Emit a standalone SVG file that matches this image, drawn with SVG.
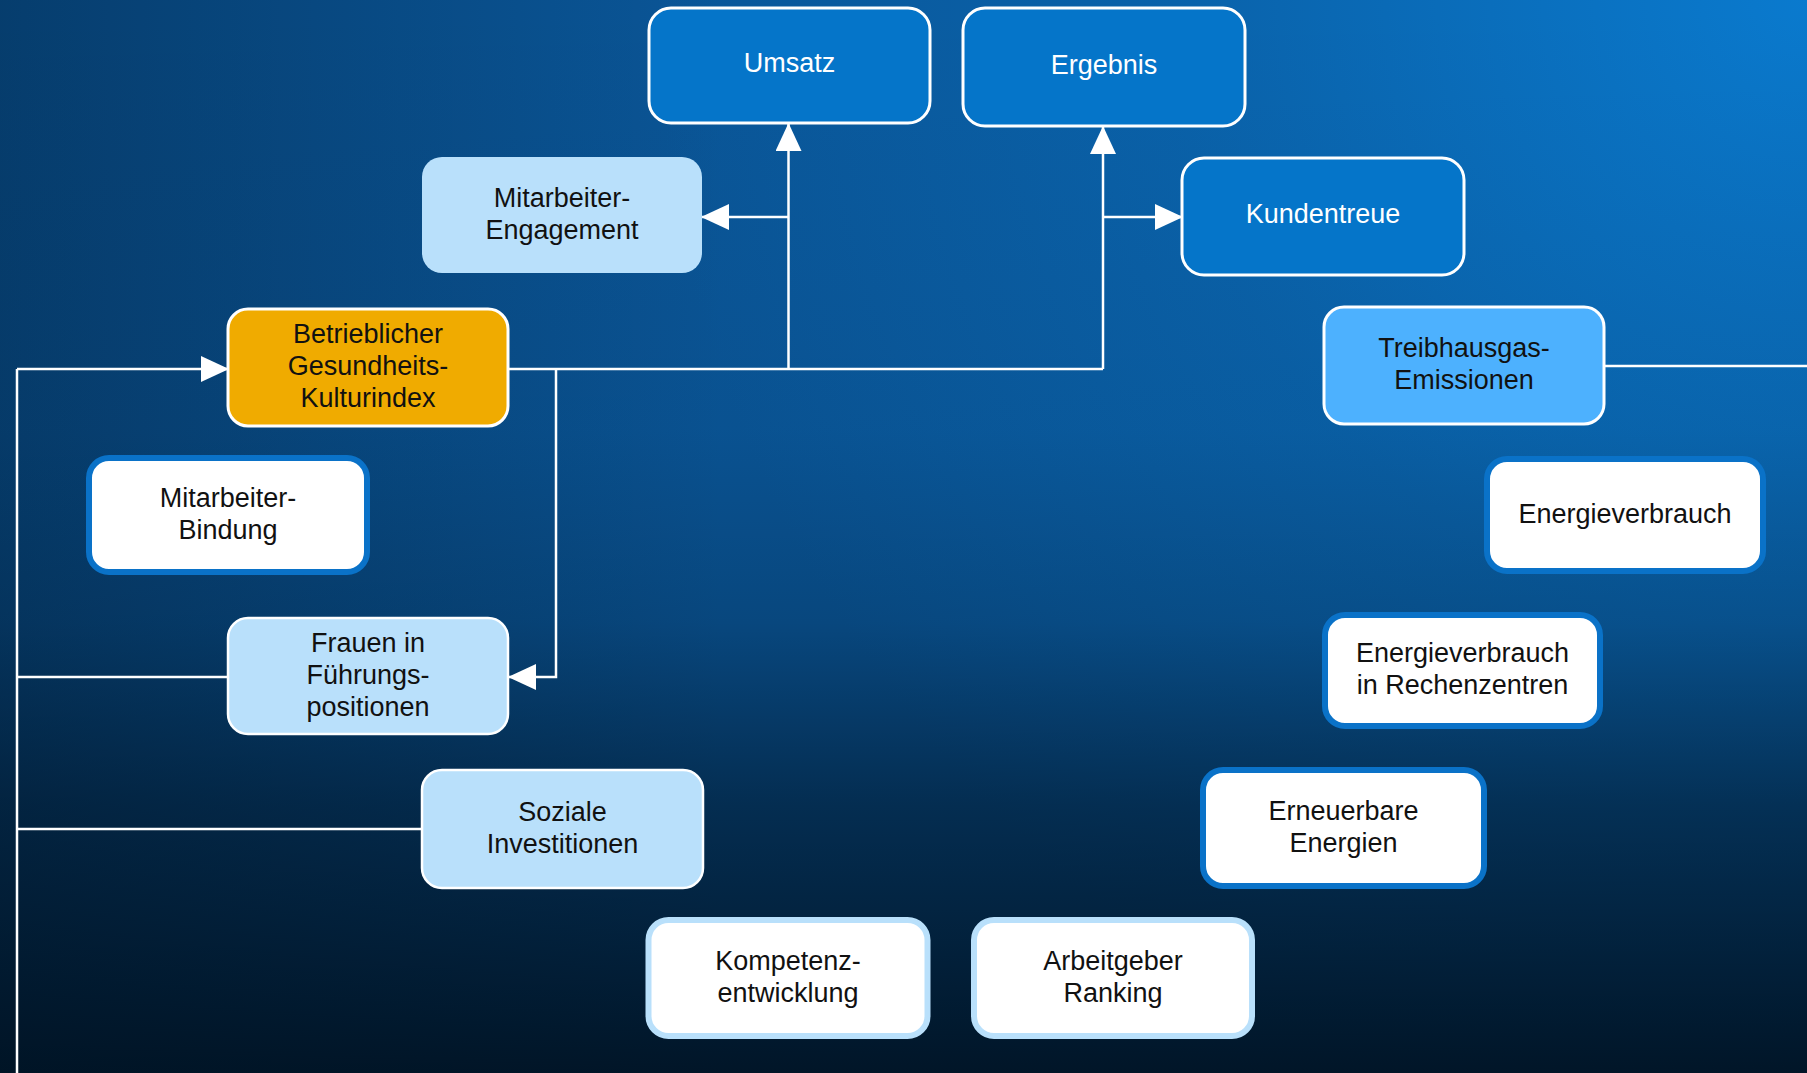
<svg xmlns="http://www.w3.org/2000/svg" width="1807" height="1073" viewBox="0 0 1807 1073">
<style>
text{font-family:"Liberation Sans",Arial,sans-serif;font-size:27px;text-anchor:middle;fill:#111}
.w{fill:#fff}
.dark{fill:#0575c9;stroke:#fff;stroke-width:3}
.gold{fill:#f0ab00;stroke:#fff;stroke-width:3}
.light{fill:#b9e0fb;stroke:#fff;stroke-width:2.5}
.plain{fill:#b9e0fb;stroke:none}
.mid{fill:#4db1fe;stroke:#fff;stroke-width:3}
.ob{fill:#fff;stroke:#0a72c8;stroke-width:6}
.ol{fill:#fff;stroke:#b9e0fb;stroke-width:6}
.c{fill:none;stroke:#fff;stroke-width:2.5}
.ca{fill:none;stroke:#fff;stroke-width:2.5;marker-end:url(#ah)}
</style>
<defs>
<radialGradient id="bg" cx="1807" cy="0" r="1150" gradientUnits="userSpaceOnUse">
<stop offset="0" stop-color="#0a7ace"/>
<stop offset="0.55" stop-color="#0a62aa"/>
<stop offset="1" stop-color="#0a5698"/>
</radialGradient>
<linearGradient id="dk" x1="0" y1="0" x2="0" y2="1">
<stop offset="0" stop-color="#001222" stop-opacity="0"/>
<stop offset="0.4" stop-color="#001222" stop-opacity="0.06"/>
<stop offset="0.58" stop-color="#001222" stop-opacity="0.22"/>
<stop offset="0.75" stop-color="#001222" stop-opacity="0.6"/>
<stop offset="1" stop-color="#001222" stop-opacity="0.95"/>
</linearGradient>
<linearGradient id="lf" x1="0" y1="0" x2="1" y2="0">
<stop offset="0" stop-color="#00182e" stop-opacity="0.4"/>
<stop offset="0.4" stop-color="#00182e" stop-opacity="0"/>
</linearGradient>
<marker id="ah" viewBox="0 0 28 26" refX="27" refY="13" markerWidth="28" markerHeight="26" markerUnits="userSpaceOnUse" orient="auto">
<path d="M0,0 L28,13 L0,26 z" fill="#fff"/>
</marker>
</defs>
<rect width="1807" height="1073" fill="url(#bg)"/>
<rect width="1807" height="1073" fill="url(#lf)"/>
<rect width="1807" height="1073" fill="url(#dk)"/>

<g id="connectors">
<path class="c" d="M508,369 H1103"/>
<path class="ca" d="M788.5,369 V124"/>
<path class="ca" d="M1103,369 V127"/>
<path class="ca" d="M788.5,217 H702"/>
<path class="ca" d="M1103,217 H1182"/>
<path class="ca" d="M556,369 V677 H509"/>
<path class="c" d="M17,1073 V369"/>
<path class="ca" d="M17,369 H228"/>
<path class="c" d="M17,677 H228"/>
<path class="c" d="M17,829 H422"/>
<path class="c" d="M1604,366 H1807"/>
</g>

<g id="umsatz"><rect class="dark" x="649" y="8" width="281" height="115" rx="22"/><text class="w" x="789.5" y="72">Umsatz</text></g>
<g id="ergebnis"><rect class="dark" x="963" y="8" width="282" height="118" rx="22"/><text class="w" x="1104" y="74">Ergebnis</text></g>
<g id="mitarbeiter-engagement"><rect class="plain" x="422" y="157" width="280" height="116" rx="20"/><text x="562" y="207">Mitarbeiter-</text><text x="562" y="239">Engagement</text></g>
<g id="kundentreue"><rect class="dark" x="1182" y="158" width="282" height="117" rx="22"/><text class="w" x="1323" y="223">Kundentreue</text></g>
<g id="betrieblicher"><rect class="gold" x="228" y="309" width="280" height="117" rx="20"/><text x="368" y="343">Betrieblicher</text><text x="368" y="375">Gesundheits-</text><text x="368" y="407">Kulturindex</text></g>
<g id="treibhausgas"><rect class="mid" x="1324" y="307" width="280" height="117" rx="20"/><text x="1464" y="357">Treibhausgas-</text><text x="1464" y="389">Emissionen</text></g>
<g id="mitarbeiter-bindung"><rect class="ob" x="89" y="458" width="278" height="114" rx="20"/><text x="228" y="507">Mitarbeiter-</text><text x="228" y="539">Bindung</text></g>
<g id="energieverbrauch"><rect class="ob" x="1487" y="459" width="276" height="112" rx="20"/><text x="1625" y="523">Energieverbrauch</text></g>
<g id="frauen"><rect class="light" x="228" y="618" width="280" height="116" rx="20"/><text x="368" y="652">Frauen in</text><text x="368" y="684">Führungs-</text><text x="368" y="716">positionen</text></g>
<g id="energie-rz"><rect class="ob" x="1325" y="615" width="275" height="111" rx="20"/><text x="1462.5" y="662">Energieverbrauch</text><text x="1462.5" y="694">in Rechenzentren</text></g>
<g id="soziale"><rect class="light" x="422" y="770" width="281" height="118" rx="20"/><text x="562.5" y="821">Soziale</text><text x="562.5" y="853">Investitionen</text></g>
<g id="erneuerbare"><rect class="ob" x="1203" y="770" width="281" height="116" rx="20"/><text x="1343.5" y="820">Erneuerbare</text><text x="1343.5" y="852">Energien</text></g>
<g id="kompetenz"><rect class="ol" x="648.5" y="920" width="279" height="116" rx="20"/><text x="788" y="970">Kompetenz-</text><text x="788" y="1002">entwicklung</text></g>
<g id="arbeitgeber"><rect class="ol" x="974" y="920" width="278" height="116" rx="20"/><text x="1113" y="970">Arbeitgeber</text><text x="1113" y="1002">Ranking</text></g>
</svg>
